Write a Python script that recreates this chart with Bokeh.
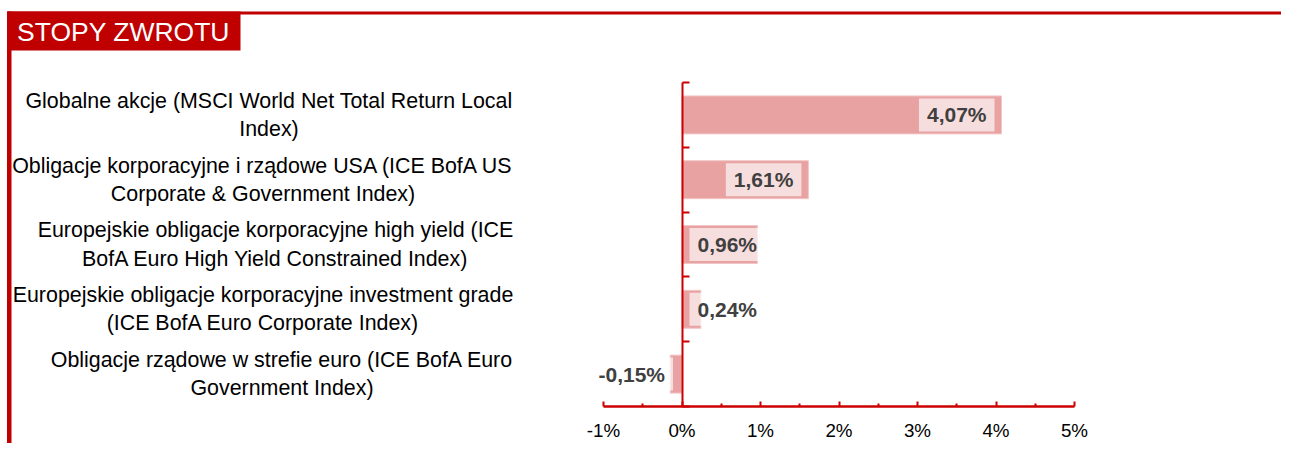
from bokeh.plotting import figure
from bokeh.models import Range1d, LinearAxis, FixedTicker, ColumnDataSource
from bokeh.embed import file_html
from bokeh.resources import INLINE
from bokeh.core.properties import value

# ---------------- data ----------------
categories = [
    "Globalne akcje (MSCI World Net Total Return Local\nIndex)",
    "Obligacje korporacyjne i rządowe USA (ICE BofA US\nCorporate & Government Index)",
    "Europejskie obligacje korporacyjne high yield (ICE\nBofA Euro High Yield Constrained Index)",
    "Europejskie obligacje korporacyjne investment grade\n(ICE BofA Euro Corporate Index)",
    "Obligacje rządowe w strefie euro (ICE BofA Euro\nGovernment Index)",
]
returns = [4.07, 1.61, 0.96, 0.24, -0.15]
x_ticks = [-1, 0, 1, 2, 3, 4, 5]
x_tick_labels = ["-1%", "0%", "1%", "2%", "3%", "4%", "5%"]
title_text = "STOPY ZWROTU"

# ---------------- layout / style ----------------
W, H = 1281, 443
X0_PX = 681.5          # canvas px of 0%
PX_PER_X = 78.5        # px per 1 %
BAND_TOP_PX = 82       # canvas px (from top) of upper edge of category area
BAND_BOT_PX = 406      # canvas px (from top) of x axis
N = len(categories)
PX_PER_Y = (BAND_BOT_PX - BAND_TOP_PX) / N

def px2x(cx):
    return (cx - X0_PX) / PX_PER_X

def py2y(cy):
    return (BAND_BOT_PX - cy) / PX_PER_Y

RED = "#C00000"
AXIS_RED = "#CC0000"
BAR_FILL = "#E8A2A2"
BAR_LINE = "#F2C6C6"
FONT = "Liberation Sans"
LABEL_CENTER_PX = [268.5, 262.5, 275, 262.5, 281.5]
LABEL_BOX_PX = 77

p = figure(width=W, height=H,
           x_range=Range1d(px2x(0), px2x(W)),
           y_range=Range1d(py2y(H), py2y(0)),
           x_axis_location=None, y_axis_location=None,
           toolbar_location=None, output_backend="svg", min_border=0)
p.outline_line_color = None
p.background_fill_color = "white"
p.border_fill_color = "white"
p.grid.visible = False

# ---------------- frame decoration ----------------
p.quad(left=[px2x(7)], right=[px2x(W)], top=[py2y(11)], bottom=[py2y(14)],
       fill_color=RED, line_color=None)
p.quad(left=[px2x(6.5)], right=[px2x(11)], top=[py2y(11)], bottom=[py2y(H)],
       fill_color=RED, line_color=None)
p.quad(left=[px2x(7)], right=[px2x(240)], top=[py2y(11)], bottom=[py2y(50)],
       fill_color=RED, line_color=None)
p.text(x=[px2x(16.5)], y=[py2y(31)], text=[title_text], text_color="white",
       text_font=value(FONT), text_font_size="26.5px",
       text_align="left", text_baseline="middle")

# ---------------- bars ----------------
ys = [N - 0.5 - i for i in range(N)]
src = ColumnDataSource(dict(
    y=ys,
    left=[min(0, v) for v in returns],
    right=[max(0, v) for v in returns],
))
p.hbar(y="y", left="left", right="right", height=0.586, source=src,
       fill_color=BAR_FILL, line_color=BAR_LINE, line_width=1)

# ---------------- value labels ----------------
lx, loff, lalign, ltxt = [], [], [], []
for v in returns:
    ltxt.append(f"{v:.2f}".replace(".", ",") + "%")
    if v >= 0 and v * PX_PER_X > LABEL_BOX_PX + 14:
        lx.append(v); loff.append(-7); lalign.append("right")
    elif v >= 0:
        lx.append(0); loff.append(7.5); lalign.append("left")
    else:
        lx.append(0); loff.append(-9); lalign.append("right")
lsrc = ColumnDataSource(dict(x=lx, y=ys, t=ltxt, off=loff, al=lalign))
p.text(x="x", y="y", text="t", x_offset="off", text_align="al", source=lsrc,
       text_baseline="middle", text_font=value(FONT), text_font_size="21px",
       text_font_style="bold", text_color="#404040",
       background_fill_color="white", background_fill_alpha=0.65,
       padding=(8, 5))

# ---------------- category labels ----------------
csrc = ColumnDataSource(dict(x=[px2x(c) for c in LABEL_CENTER_PX], y=ys, t=categories))
p.text(x="x", y="y", text="t", source=csrc, text_align="center",
       text_baseline="middle", text_font=value(FONT), text_font_size="21.4px",
       text_color="black", text_line_height=1.17)

# ---------------- axes ----------------
xaxis = LinearAxis(fixed_location=0, bounds=(x_ticks[0], x_ticks[-1]))
xaxis.ticker = FixedTicker(ticks=x_ticks,
                           minor_ticks=[t + 0.5 for t in x_ticks[:-1]])
xaxis.major_label_overrides = {t: l for t, l in zip(x_ticks, x_tick_labels)}
xaxis.axis_line_color = AXIS_RED
xaxis.axis_line_width = 2.5
xaxis.major_tick_line_color = AXIS_RED
xaxis.major_tick_line_width = 2
xaxis.minor_tick_line_color = AXIS_RED
xaxis.minor_tick_line_width = 2
xaxis.major_tick_in = 5
xaxis.major_tick_out = 0
xaxis.minor_tick_in = 3
xaxis.minor_tick_out = 0
xaxis.major_label_standoff = 13
xaxis.major_label_text_font = FONT
xaxis.major_label_text_font_size = "18.8px"
xaxis.major_label_text_color = "black"
p.add_layout(xaxis, "below")

yaxis = LinearAxis(fixed_location=0, bounds=(0, N))
yaxis.ticker = FixedTicker(ticks=list(range(N + 1)), minor_ticks=[])
yaxis.major_label_overrides = {i: "" for i in range(N + 1)}
yaxis.major_label_text_font_size = "0px"
yaxis.axis_line_color = AXIS_RED
yaxis.axis_line_width = 2
yaxis.major_tick_line_color = AXIS_RED
yaxis.major_tick_line_width = 2
yaxis.major_tick_in = 7
yaxis.major_tick_out = 0
yaxis.minor_tick_line_color = None
p.add_layout(yaxis, "left")

open("out.html", "w").write(file_html(p, INLINE))
